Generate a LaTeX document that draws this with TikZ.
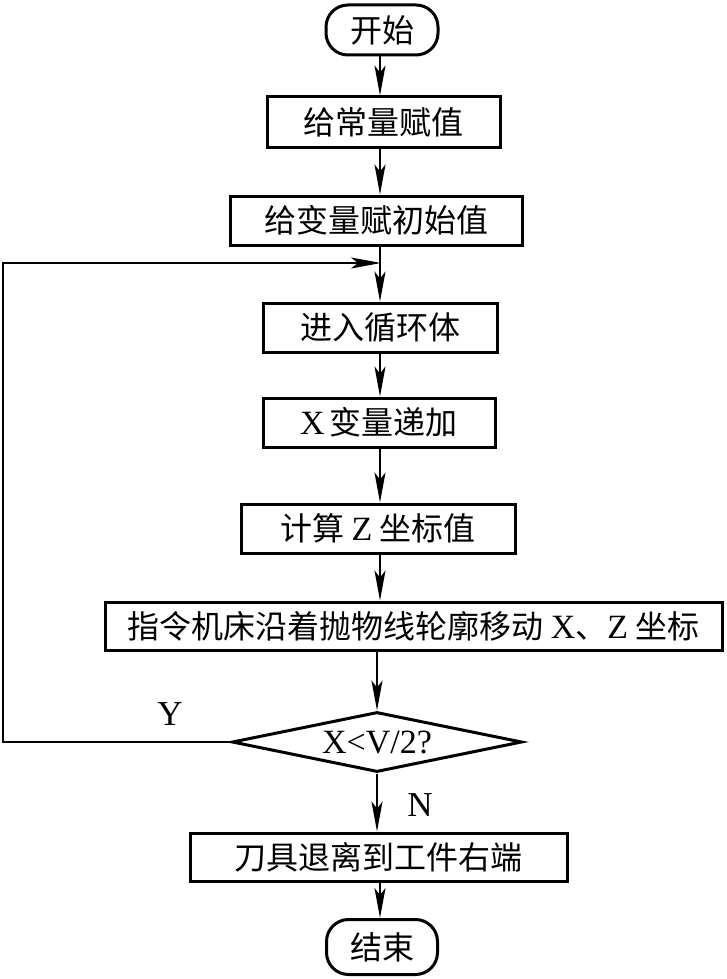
\documentclass[tikz,border=0pt]{standalone}
\usepackage{fontspec}
\setmainfont{Liberation Serif}
\newfontfamily\cjk{Noto Sans CJK SC}
\usetikzlibrary{shapes.geometric,arrows.meta}
\newcommand{\lat}[1]{{\fontsize{34}{36}\selectfont\rmfamily #1}}
\begin{document}
\begin{tikzpicture}[x=1pt,y=-1pt,
  box/.style={draw, line width=3pt, inner sep=0pt, font=\fontsize{32}{36}\selectfont\cjk},
  term/.style={box, rounded corners=22pt},
  arr/.style={line width=2pt, line join=miter, -{Stealth[length=30pt,width=11pt,inset=7pt]}},
  lab/.style={inner sep=0pt, font=\fontsize{35}{38}\selectfont}]
\useasboundingbox[fill=white] (0,0) rectangle (726,979);
\coordinate (L) at (380,0);
\node[term, minimum width=112pt, minimum height=50pt] (s) at (382,30) {开始};
\node[box, minimum width=233pt, minimum height=50pt] (b1) at (383.5,122) {给常量赋值};
\node[box, minimum width=292pt, minimum height=49pt] (b2) at (376,220.5) {给变量赋初始值};
\node[box, minimum width=234pt, minimum height=49pt] (b3) at (380,327.5) {进入循环体};
\node[box, minimum width=232pt, minimum height=49pt] (b4) at (379,422.5) {\lat{X}\,变量递加};
\node[box, minimum width=274pt, minimum height=49pt] (b5) at (378,528.5) {计算 \lat{Z} 坐标值};
\node[box, minimum width=617pt, minimum height=48pt] (b6) at (413.5,626) {指令机床沿着抛物线轮廓移动 \lat{X}、\lat{Z} 坐标};
\node[box, diamond, aspect=4.8, minimum width=290pt, minimum height=60pt] (d) at (377,742) {\lat{X<V/2?}};
\node[box, minimum width=377pt, minimum height=48pt] (b7) at (378.5,857) {刀具退离到工件右端};
\node[term, minimum width=111pt, minimum height=55pt] (e) at (382,947) {结束};
\node[lab] (y) at (170,714) {Y};
\node[lab] (n) at (420,805) {N};
\coordinate (fb) at (3,263);
\coordinate (J) at (381,263);
\draw[arr] (s.south -| L) -- (b1.north -| L);
\draw[arr] (b1.south -| L) -- (b2.north -| L);
\draw[arr] (b2.south -| L) -- (b3.north -| L);
\draw[arr] (b3.south -| L) -- (b4.north -| L);
\draw[arr] (b4.south -| L) -- (b5.north -| L);
\draw[arr] (b5.south -| L) -- (b6.north -| L);
\draw[arr] (b6.south -| d.north) -- (d.north);
\draw[arr] (d.south) -- (d.south |- b7.north);
\draw[arr] (b7.south -| L) -- (e.north -| L);
\draw[arr] (d.west) -| (fb) -- (J);
\end{tikzpicture}
\end{document}
